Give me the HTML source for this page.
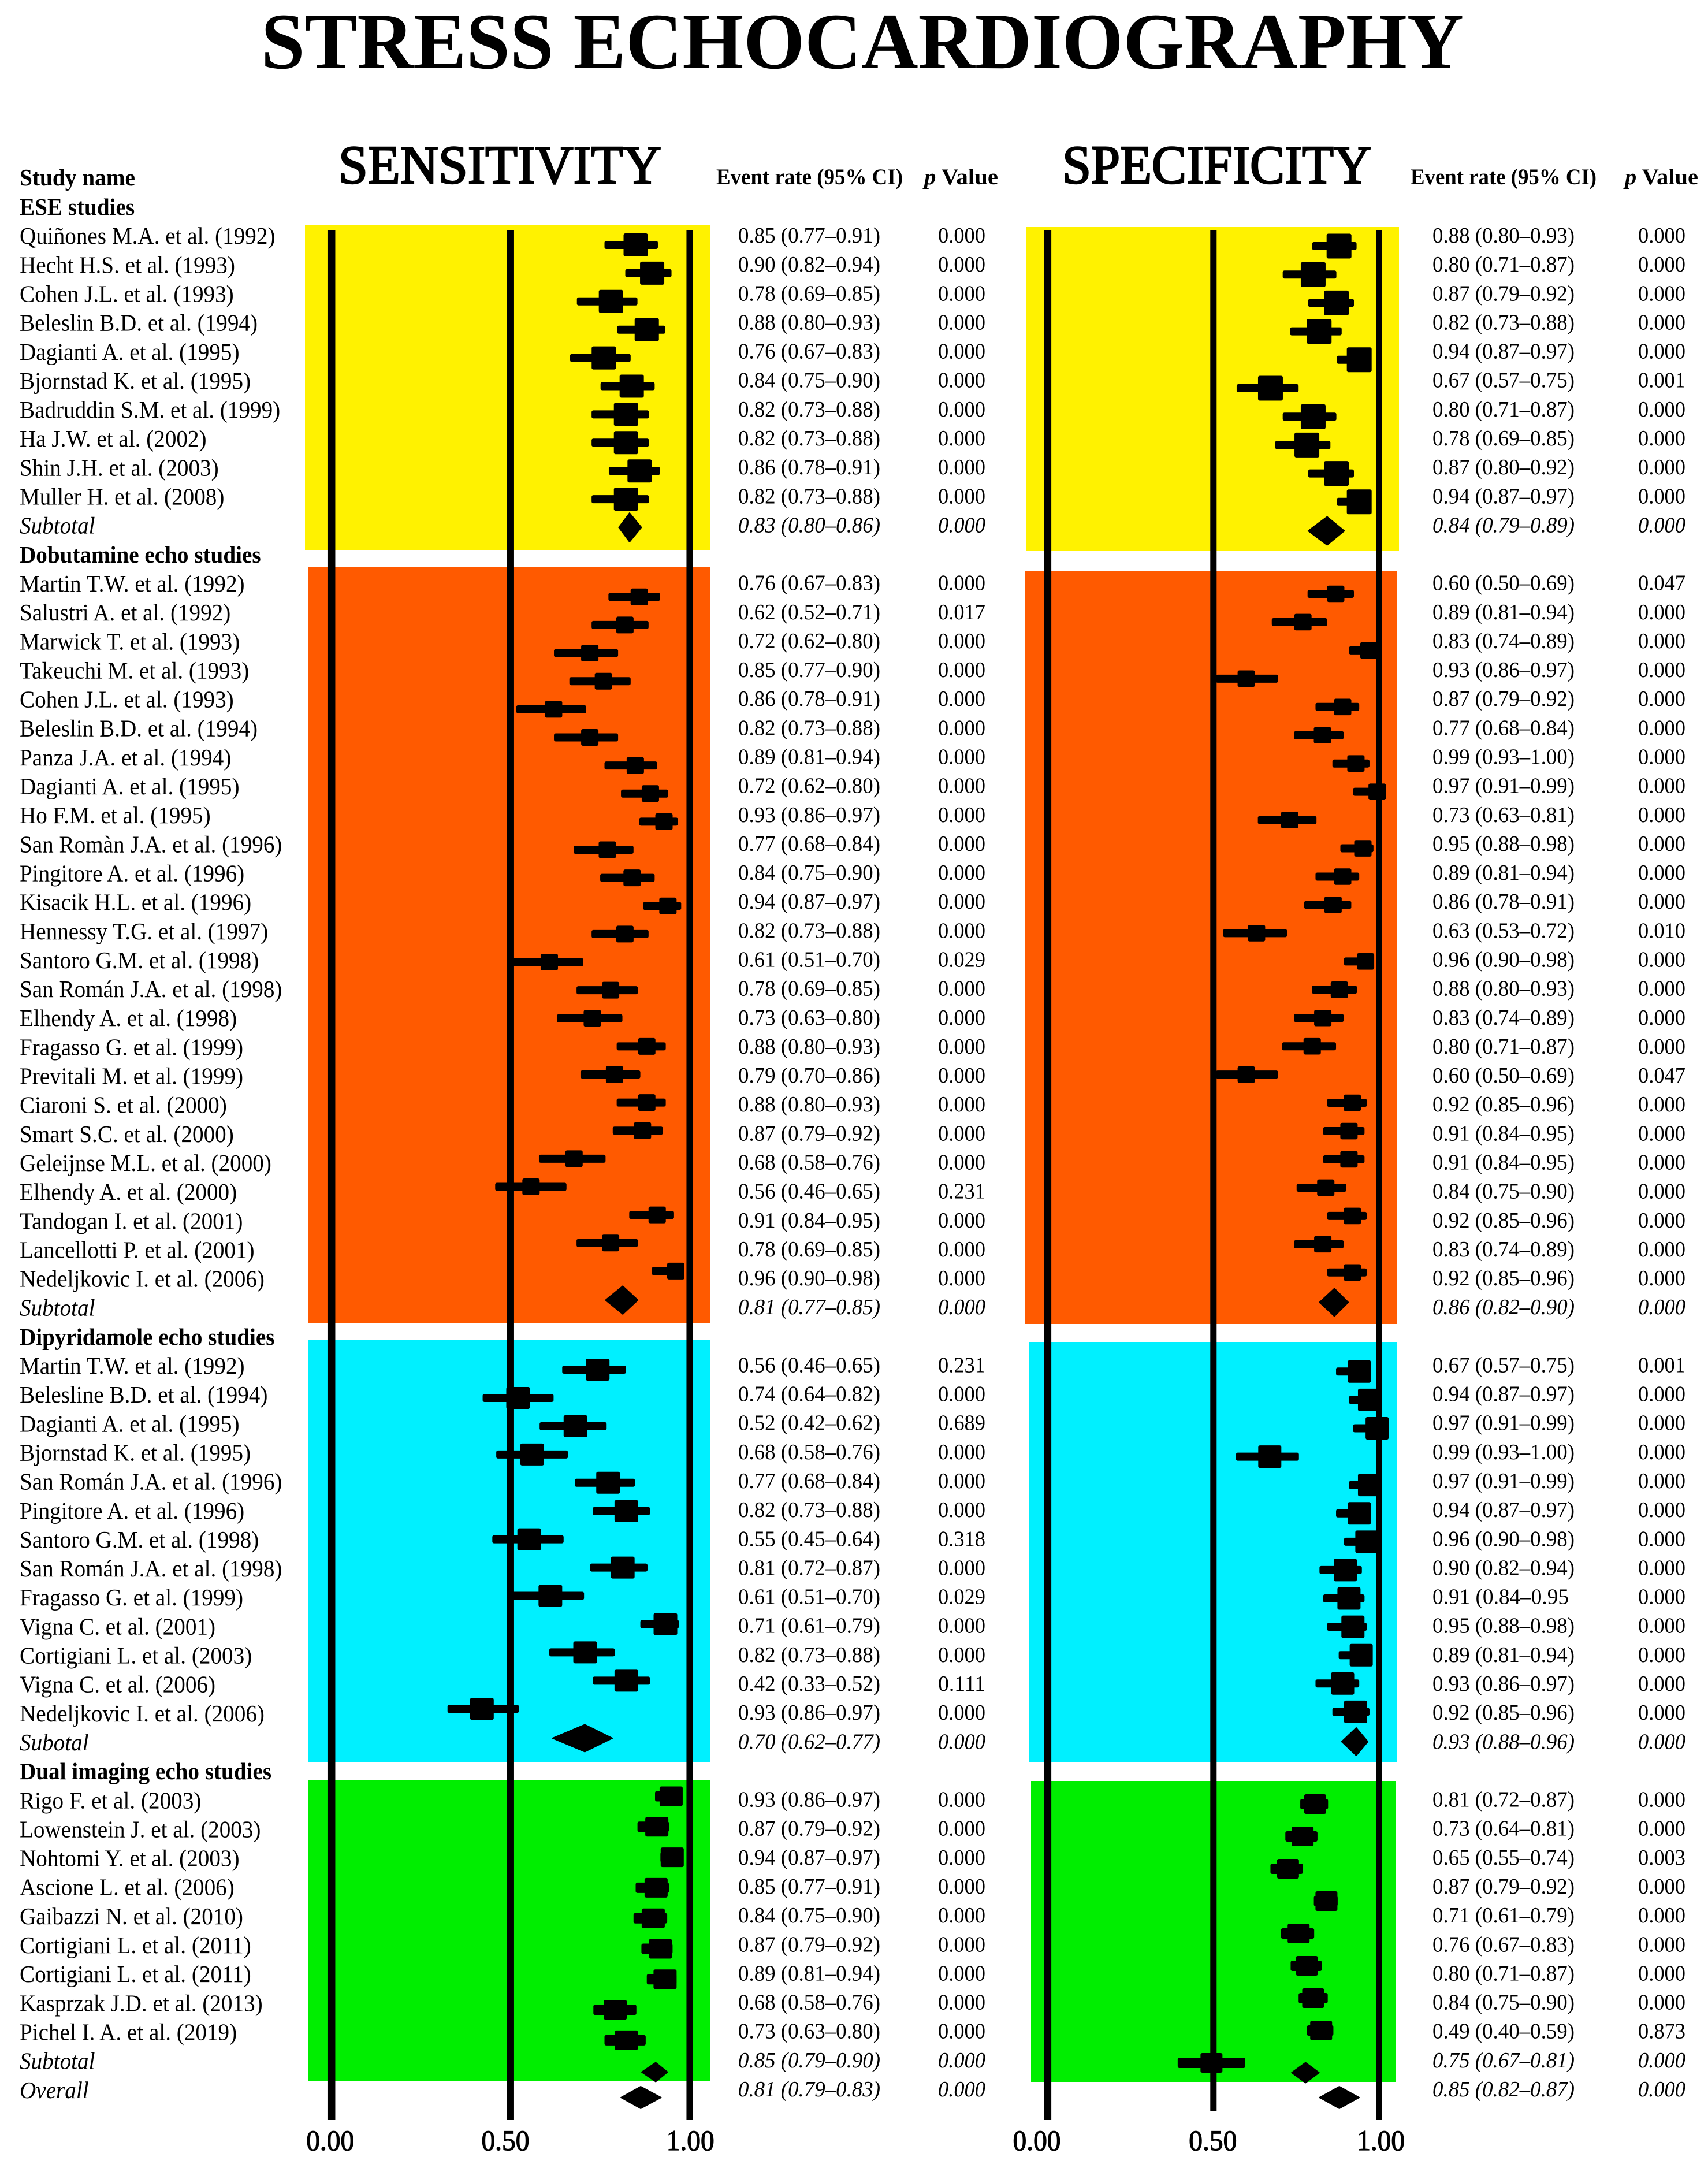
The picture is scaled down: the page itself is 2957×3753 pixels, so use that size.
<!DOCTYPE html>
<html lang="en">
<head>
<meta charset="utf-8">
<title>Stress Echocardiography forest plot</title>
<style>
html,body{margin:0;padding:0;background:#fff;width:2957px;height:3753px;overflow:hidden}
svg{display:block}
text{font-family:"Liberation Serif","DejaVu Serif",serif;fill:#000}
</style>
</head>
<body>
<svg id="chart" xmlns="http://www.w3.org/2000/svg" width="2957" height="3753" viewBox="0 0 2957 3753">
  <rect x="0" y="0" width="2957" height="3753" fill="#fff"/>
  <text x="452" y="118" font-size="138" font-weight="700" textLength="2082" lengthAdjust="spacingAndGlyphs">STRESS ECHOCARDIOGRAPHY</text>
  <text x="586" y="317" font-size="94" stroke="#000" stroke-width="2.6" textLength="559" lengthAdjust="spacingAndGlyphs">SENSITIVITY</text>
  <text x="1839" y="317" font-size="94" stroke="#000" stroke-width="2.6" textLength="535" lengthAdjust="spacingAndGlyphs">SPECIFICITY</text>
  <text x="34" y="321" font-size="41" font-weight="700" textLength="200" lengthAdjust="spacingAndGlyphs">Study name</text>
  <text x="1240" y="319" font-size="39" font-weight="700" textLength="323" lengthAdjust="spacingAndGlyphs">Event rate (95% CI)</text>
  <text x="1600" y="319" font-size="39" font-weight="700" textLength="128" lengthAdjust="spacingAndGlyphs"><tspan font-style="italic">p</tspan> Value</text>
  <text x="2442" y="319" font-size="39" font-weight="700" textLength="322" lengthAdjust="spacingAndGlyphs">Event rate (95% CI)</text>
  <text x="2813" y="319" font-size="39" font-weight="700" textLength="127" lengthAdjust="spacingAndGlyphs"><tspan font-style="italic">p</tspan> Value</text>
  <g id="bands"></g>
  <g id="axes"></g>
  <g id="marks"></g>
  <g id="table"></g>
</svg>
<script>
// ---- Categories (rows of the table, top to bottom) ----
const rowLabels = [
"ESE studies","Quiñones M.A. et al. (1992)","Hecht H.S. et al. (1993)","Cohen J.L. et al. (1993)","Beleslin B.D. et al. (1994)","Dagianti A. et al. (1995)","Bjornstad K. et al. (1995)","Badruddin S.M. et al. (1999)","Ha J.W. et al. (2002)","Shin J.H. et al. (2003)","Muller H. et al. (2008)","Subtotal",
"Dobutamine echo studies","Martin T.W. et al. (1992)","Salustri A. et al. (1992)","Marwick T. et al. (1993)","Takeuchi M. et al. (1993)","Cohen J.L. et al. (1993)","Beleslin B.D. et al. (1994)","Panza J.A. et al. (1994)","Dagianti A. et al. (1995)","Ho F.M. et al. (1995)","San Romàn J.A. et al. (1996)","Pingitore A. et al. (1996)","Kisacik H.L. et al. (1996)","Hennessy T.G. et al. (1997)","Santoro G.M. et al. (1998)","San Román J.A. et al. (1998)","Elhendy A. et al. (1998)","Fragasso G. et al. (1999)","Previtali M. et al. (1999)","Ciaroni S. et al. (2000)","Smart S.C. et al. (2000)","Geleijnse M.L. et al. (2000)","Elhendy A. et al. (2000)","Tandogan I. et al. (2001)","Lancellotti P. et al. (2001)","Nedeljkovic I. et al. (2006)","Subtotal",
"Dipyridamole echo studies","Martin T.W. et al. (1992)","Belesline B.D. et al. (1994)","Dagianti A. et al. (1995)","Bjornstad K. et al. (1995)","San Román J.A. et al. (1996)","Pingitore A. et al. (1996)","Santoro G.M. et al. (1998)","San Román J.A. et al. (1998)","Fragasso G. et al. (1999)","Vigna C. et al. (2001)","Cortigiani L. et al. (2003)","Vigna C. et al. (2006)","Nedeljkovic I. et al. (2006)","Subotal",
"Dual imaging echo studies","Rigo F. et al. (2003)","Lowenstein J. et al. (2003)","Nohtomi Y. et al. (2003)","Ascione L. et al. (2006)","Gaibazzi N. et al. (2010)","Cortigiani L. et al. (2011)","Cortigiani L. et al. (2011)","Kasprzak J.D. et al. (2013)","Pichel I. A. et al. (2019)","Subtotal","Overall"];
const headerRows = [0,12,39,54];
const summaryRows = [11,38,53,64,65];

// ---- Printed values (every non-header row) ----
const sensRate = [
"0.85 (0.77–0.91)","0.90 (0.82–0.94)","0.78 (0.69–0.85)","0.88 (0.80–0.93)","0.76 (0.67–0.83)","0.84 (0.75–0.90)","0.82 (0.73–0.88)","0.82 (0.73–0.88)","0.86 (0.78–0.91)","0.82 (0.73–0.88)","0.83 (0.80–0.86)",
"0.76 (0.67–0.83)","0.62 (0.52–0.71)","0.72 (0.62–0.80)","0.85 (0.77–0.90)","0.86 (0.78–0.91)","0.82 (0.73–0.88)","0.89 (0.81–0.94)","0.72 (0.62–0.80)","0.93 (0.86–0.97)","0.77 (0.68–0.84)","0.84 (0.75–0.90)","0.94 (0.87–0.97)","0.82 (0.73–0.88)","0.61 (0.51–0.70)","0.78 (0.69–0.85)","0.73 (0.63–0.80)","0.88 (0.80–0.93)","0.79 (0.70–0.86)","0.88 (0.80–0.93)","0.87 (0.79–0.92)","0.68 (0.58–0.76)","0.56 (0.46–0.65)","0.91 (0.84–0.95)","0.78 (0.69–0.85)","0.96 (0.90–0.98)","0.81 (0.77–0.85)",
"0.56 (0.46–0.65)","0.74 (0.64–0.82)","0.52 (0.42–0.62)","0.68 (0.58–0.76)","0.77 (0.68–0.84)","0.82 (0.73–0.88)","0.55 (0.45–0.64)","0.81 (0.72–0.87)","0.61 (0.51–0.70)","0.71 (0.61–0.79)","0.82 (0.73–0.88)","0.42 (0.33–0.52)","0.93 (0.86–0.97)","0.70 (0.62–0.77)",
"0.93 (0.86–0.97)","0.87 (0.79–0.92)","0.94 (0.87–0.97)","0.85 (0.77–0.91)","0.84 (0.75–0.90)","0.87 (0.79–0.92)","0.89 (0.81–0.94)","0.68 (0.58–0.76)","0.73 (0.63–0.80)","0.85 (0.79–0.90)","0.81 (0.79–0.83)"];
const sensPValue = [
"0.000","0.000","0.000","0.000","0.000","0.000","0.000","0.000","0.000","0.000","0.000",
"0.000","0.017","0.000","0.000","0.000","0.000","0.000","0.000","0.000","0.000","0.000","0.000","0.000","0.029","0.000","0.000","0.000","0.000","0.000","0.000","0.000","0.231","0.000","0.000","0.000","0.000",
"0.231","0.000","0.689","0.000","0.000","0.000","0.318","0.000","0.029","0.000","0.000","0.111","0.000","0.000",
"0.000","0.000","0.000","0.000","0.000","0.000","0.000","0.000","0.000","0.000","0.000"];
const specRate = [
"0.88 (0.80–0.93)","0.80 (0.71–0.87)","0.87 (0.79–0.92)","0.82 (0.73–0.88)","0.94 (0.87–0.97)","0.67 (0.57–0.75)","0.80 (0.71–0.87)","0.78 (0.69–0.85)","0.87 (0.80–0.92)","0.94 (0.87–0.97)","0.84 (0.79–0.89)",
"0.60 (0.50–0.69)","0.89 (0.81–0.94)","0.83 (0.74–0.89)","0.93 (0.86–0.97)","0.87 (0.79–0.92)","0.77 (0.68–0.84)","0.99 (0.93–1.00)","0.97 (0.91–0.99)","0.73 (0.63–0.81)","0.95 (0.88–0.98)","0.89 (0.81–0.94)","0.86 (0.78–0.91)","0.63 (0.53–0.72)","0.96 (0.90–0.98)","0.88 (0.80–0.93)","0.83 (0.74–0.89)","0.80 (0.71–0.87)","0.60 (0.50–0.69)","0.92 (0.85–0.96)","0.91 (0.84–0.95)","0.91 (0.84–0.95)","0.84 (0.75–0.90)","0.92 (0.85–0.96)","0.83 (0.74–0.89)","0.92 (0.85–0.96)","0.86 (0.82–0.90)",
"0.67 (0.57–0.75)","0.94 (0.87–0.97)","0.97 (0.91–0.99)","0.99 (0.93–1.00)","0.97 (0.91–0.99)","0.94 (0.87–0.97)","0.96 (0.90–0.98)","0.90 (0.82–0.94)","0.91 (0.84–0.95","0.95 (0.88–0.98)","0.89 (0.81–0.94)","0.93 (0.86–0.97)","0.92 (0.85–0.96)","0.93 (0.88–0.96)",
"0.81 (0.72–0.87)","0.73 (0.64–0.81)","0.65 (0.55–0.74)","0.87 (0.79–0.92)","0.71 (0.61–0.79)","0.76 (0.67–0.83)","0.80 (0.71–0.87)","0.84 (0.75–0.90)","0.49 (0.40–0.59)","0.75 (0.67–0.81)","0.85 (0.82–0.87)"];
const specPValue = [
"0.000","0.000","0.000","0.000","0.000","0.001","0.000","0.000","0.000","0.000","0.000",
"0.047","0.000","0.000","0.000","0.000","0.000","0.000","0.000","0.000","0.000","0.000","0.000","0.010","0.000","0.000","0.000","0.000","0.047","0.000","0.000","0.000","0.000","0.000","0.000","0.000","0.000",
"0.001","0.000","0.000","0.000","0.000","0.000","0.000","0.000","0.000","0.000","0.000","0.000","0.000","0.000",
"0.000","0.000","0.003","0.000","0.000","0.000","0.000","0.000","0.873","0.000","0.000"];

// ---- Marks: centre, lower and upper whisker (event rate units) ----
const sensPoint = [
.849,.895,.780,.880,.760,.838,.822,.822,.860,.822,.832,
.859,.819,.721,.759,.620,.721,.848,.890,.928,.770,.839,.939,.819,.608,.779,.728,.880,.790,.880,.868,.677,.557,.909,.779,.961,.813,
.743,.521,.681,.560,.772,.823,.552,.813,.611,.932,.708,.823,.420,.707,
.948,.908,.951,.906,.898,.918,.931,.792,.823,.905,.863];
const sensLow = [
.762,.820,.685,.797,.666,.751,.726,.726,.774,.726,.802,
.773,.726,.621,.664,.516,.621,.762,.808,.859,.676,.750,.870,.726,.500,.684,.629,.796,.695,.796,.785,.579,.457,.831,.684,.894,.765,
.644,.422,.581,.460,.679,.729,.449,.722,.500,.862,.608,.729,.324,.617,
.903,.854,.918,.849,.843,.865,.880,.731,.762,.866,.808];
const sensHigh = [
.911,.949,.854,.932,.835,.902,.886,.886,.917,.886,.865,
.917,.885,.800,.835,.711,.800,.909,.940,.967,.843,.902,.976,.885,.703,.855,.812,.933,.862,.933,.925,.765,.656,.956,.855,.985,.855,
.822,.620,.768,.660,.847,.889,.648,.882,.705,.970,.791,.889,.523,.784,
.975,.942,.977,.942,.937,.952,.963,.851,.877,.938,.920];
const specPoint = [
.879,.801,.871,.819,.940,.672,.801,.782,.871,.940,.843,
.869,.770,.969,.599,.890,.829,.930,.994,.730,.951,.890,.861,.630,.959,.880,.830,.798,.599,.919,.909,.909,.839,.919,.830,.919,.865,
.940,.971,.994,.670,.971,.940,.963,.898,.909,.921,.946,.890,.929,.931,
.807,.769,.725,.841,.757,.782,.801,.825,.494,.778,.880];
const specLow = [
.798,.709,.786,.731,.872,.570,.709,.686,.786,.872,.786,
.784,.676,.909,.507,.808,.743,.859,.921,.634,.883,.808,.774,.529,.894,.797,.743,.707,.507,.843,.831,.831,.751,.843,.743,.843,.820,
.870,.909,.921,.568,.909,.870,.894,.820,.831,.843,.878,.808,.859,.887,
.762,.717,.672,.803,.704,.733,.757,.782,.392,.736,.820];
const specHigh = [
.932,.871,.924,.887,.976,.757,.871,.853,.924,.976,.895,
.924,.843,.990,.695,.940,.893,.971,1.000,.811,.983,.940,.916,.722,.985,.933,.893,.870,.695,.963,.956,.956,.901,.963,.893,.963,.907,
.975,1.000,1.000,.758,1.000,.975,1.000,.948,.956,.963,.979,.940,.971,.966,
.846,.814,.770,.875,.804,.827,.845,.862,.596,.819,.940];

// ---- Axis ticks ----
const tickValues = [0, 0.5, 1];
const tickLabels = ["0.00", "0.50", "1.00"];
const groupNames = ["ese", "dobutamine", "dipyridamole", "dual-imaging"];

// ---- Layout ----
function panelLayout(id) {
  if (id === 'sensitivity') {
    return {
      id: id, x0: 573.7, x1: 1194.2, lineWidths: [13.5, 12, 11.5], lineEnds: [3670, 3670, 3670],
      labelShift: [-2, -9, 1], rateX: 1278, pX: 1624,
      bands: [
        {c:'#FFF200', x:528, y:390, r:1229, b:952},
        {c:'#FF5A00', x:534, y:981, r:1229, b:2290},
        {c:'#00F0FF', x:533, y:2319, r:1229, b:3050},
        {c:'#00EE00', x:534, y:3081, r:1229, b:3603}],
      groups: [
        {start:424, step:48.9, sub:913, w:42, h:40, dh:50, ci:14},
        {start:1033.3, step:48.63, sub:2250.6, w:30, h:29, dh:48.6, ci:14},
        {start:2371, step:48.94, sub:3009, w:41, h:38, dh:47, ci:14},
        {start:3109.5, step:52.8, sub:3587, w:40, h:34, dh:33, ci:18}],
      overallY: 3631, overallH: 38
    };
  }
  return {
    id: id, x0: 1814, x1: 2387.6, lineWidths: [12.2, 11, 10.5], lineEnds: [3670, 3655, 3670],
    labelShift: [-19, -1, 3], rateX: 2480, pX: 2836,
    bands: [
      {c:'#FFF200', x:1776, y:393, r:2422, b:953},
      {c:'#FF5A00', x:1775, y:988, r:2419, b:2292},
      {c:'#00F0FF', x:1781, y:2323, r:2418, b:3051},
      {c:'#00EE00', x:1785, y:3083, r:2417, b:3604}],
    groups: [
      {start:426, step:49.2, sub:919, w:43, h:43, dh:49, ci:14},
      {start:1028, step:48.95, sub:2254.5, w:30, h:28.6, dh:48, ci:14},
      {start:2374.3, step:49.09, sub:3015, w:40, h:39, dh:48, ci:14},
      {start:3123, step:56, sub:3588, w:38, h:34, dh:35, ci:18}],
    overallY: 3631, overallH: 38
  };
}
function xScale(p, v) { return p.x0 + (p.x1 - p.x0) * v; }
function nameBaseline(row) { return 372 + 50.15 * row; }
function valueBaseline(row) { return 420 + 50.14 * (row - 1); }

const SVG_NS = 'http://www.w3.org/2000/svg';
function make(tag, attrs, parent) {
  const el = document.createElementNS(SVG_NS, tag);
  for (const k in attrs) el.setAttribute(k, attrs[k]);
  parent.appendChild(el);
  return el;
}

const bandLayer = document.getElementById('bands');
const axisLayer = document.getElementById('axes');
const markLayer = document.getElementById('marks');
const tableLayer = document.getElementById('table');

function drawPanel(id, points, lows, highs) {
  const p = panelLayout(id);
  p.bands.forEach(function (b, g) {
    const band = make('rect', {x:b.x, y:b.y, width:b.r - b.x, height:b.b - b.y, fill:b.c}, bandLayer);
    
    
  });
  tickValues.forEach(function (t, i) {
    const x = xScale(p, t);
    const w = p.lineWidths[i];
    const line = make('rect', {x:x - w / 2, y:399, width:w, height:p.lineEnds[i] - 399, fill:'#000'}, axisLayer);
    
    
    const label = make('text', {x:x + p.labelShift[i], y:3722, 'text-anchor':'middle', 'font-size':50, stroke:'#000', 'stroke-width':1.2, textLength:83, lengthAdjust:'spacingAndGlyphs'}, axisLayer);
    label.textContent = tickLabels[i];
    
    
  });
  let k = 0, g = -1, inGroup = 0;
  rowLabels.forEach(function (name, row) {
    if (headerRows.indexOf(row) >= 0) { g++; inGroup = 0; return; }
    const lay = p.groups[g];
    const pt = xScale(p, points[k]);
    const lo = xScale(p, lows[k]);
    const hi = xScale(p, highs[k]);
    if (summaryRows.indexOf(row) >= 0) {
      const isOverall = row === rowLabels.length - 1;
      const y = isOverall ? p.overallY : lay.sub;
      const half = (isOverall ? p.overallH : lay.dh) / 2;
      const d = make('polygon', {points: lo + ',' + y + ' ' + pt + ',' + (y - half) + ' ' + hi + ',' + y + ' ' + pt + ',' + (y + half), fill:'#000', stroke:'#000', 'stroke-width':2, 'stroke-linejoin':'round'}, markLayer);
      
      
    } else {
      const y = lay.start + lay.step * inGroup;
      const ci = make('rect', {x:lo, y:y - lay.ci / 2, width:hi - lo, height:lay.ci, rx:3, fill:'#000'}, markLayer);
      
      
      const box = make('rect', {x:pt - lay.w / 2, y:y - lay.h / 2, width:lay.w, height:lay.h, rx:3, fill:'#000'}, markLayer);
      
      
      inGroup++;
    }
    k++;
  });
}

function drawColumns(id, rates, pValues) {
  const p = panelLayout(id);
  let k = 0;
  rowLabels.forEach(function (name, row) {
    if (headerRows.indexOf(row) >= 0) return;
    const italic = summaryRows.indexOf(row) >= 0 ? 'italic' : 'normal';
    const y = valueBaseline(row);
    const r = make('text', {x:p.rateX, y:y, 'font-size':38.5, 'font-style':italic, textLength: rates[k].slice(-1) === ')' ? 246 : 236, lengthAdjust:'spacingAndGlyphs'}, tableLayer);
    r.textContent = rates[k];
    
    
    const v = make('text', {x:p.pX, y:y, 'font-size':38.5, 'font-style':italic, textLength:82, lengthAdjust:'spacingAndGlyphs'}, tableLayer);
    v.textContent = pValues[k];
    
    
    k++;
  });
}

rowLabels.forEach(function (name, row) {
  const isHeader = headerRows.indexOf(row) >= 0;
  const isSummary = summaryRows.indexOf(row) >= 0;
  const t = make('text', {transform:'translate(34 ' + nameBaseline(row) + ') scale(0.955 1)', x:0, y:0, 'font-size':41, 'font-weight':isHeader ? 700 : 400, 'font-style':isSummary ? 'italic' : 'normal'}, tableLayer);
  t.textContent = name;
  
  
});

drawPanel('sensitivity', sensPoint, sensLow, sensHigh);
drawPanel('specificity', specPoint, specLow, specHigh);
drawColumns('sensitivity', sensRate, sensPValue);
drawColumns('specificity', specRate, specPValue);
</script>
</body>
</html>
